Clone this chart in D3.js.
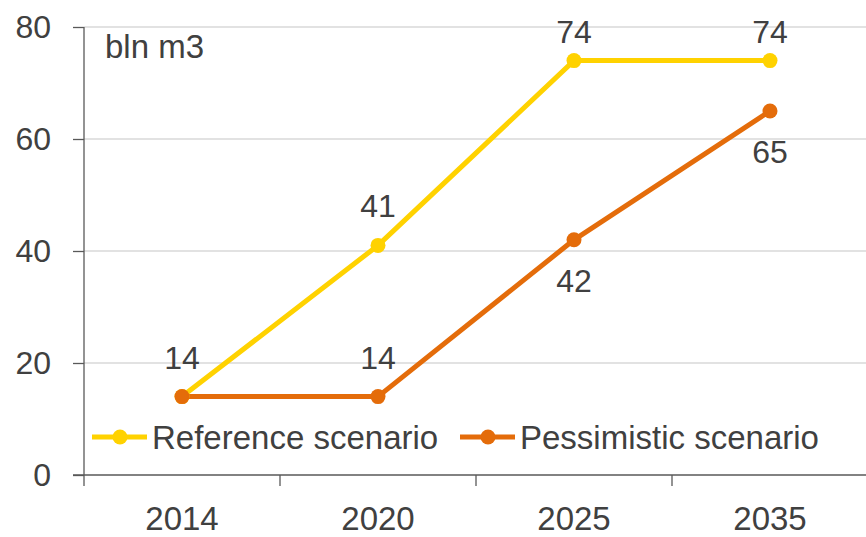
<!DOCTYPE html>
<html>
<head>
<meta charset="utf-8">
<script src="https://cdn.jsdelivr.net/npm/d3@7"></script>
<style>
  body { margin: 0; background: #fff; }
  text { font-family: "Liberation Sans", Arial, sans-serif; fill: #404040; }
</style>
</head>
<body>
<div id="chart"></div>
<script>
const years = ["2014", "2020", "2025", "2035"];
const referenceValues = [14, 41, 74, 74];
const pessimisticValues = [14, 14, 42, 65];
const yTicks = [0, 20, 40, 60, 80];
const seriesNames = ["Reference scenario", "Pessimistic scenario"];
// where each series puts its value labels
const referenceLabelPos = ["above", "above", "above", "above"];
const pessimisticLabelPos = ["none", "above", "below", "below"];

const svgWidth = 866;
const svgHeight = 537;
const margin = { top: 27, right: 0, bottom: 62, left: 84 };
const width = svgWidth - margin.left - margin.right;
const height = svgHeight - margin.top - margin.bottom;

const svg = d3.select("#chart")
  .append("svg")
  .attr("width", svgWidth)
  .attr("height", svgHeight);

const chartGroup = svg.append("g")
  .attr("transform", `translate(${margin.left}, ${margin.top})`);

const xScale = d3.scaleBand()
  .domain(years)
  .range([0, 196 * 4])
  .padding(0);

const yScale = d3.scaleLinear()
  .domain([0, 80])
  .range([height, 0]);

// gridlines
chartGroup.append("g")
  .selectAll("line")
  .data(yTicks.filter(d => d > 0))
  .enter()
  .append("line")
  .attr("x1", 0)
  .attr("x2", width)
  .attr("y1", d => yScale(d))
  .attr("y2", d => yScale(d))
  .attr("stroke", "#d9d9d9")
  .attr("stroke-width", 1.5);

// y axis
const leftAxis = d3.axisLeft(yScale).tickValues(yTicks).tickSize(11).tickPadding(22);
const yAxis = chartGroup.append("g").call(leftAxis);
yAxis.select(".domain").remove();
yAxis.append("line")
  .attr("x1", 0).attr("x2", 0)
  .attr("y1", 0).attr("y2", height + 11)
  .attr("stroke", "#595959").attr("stroke-width", 1.3);
yAxis.selectAll(".tick line").attr("stroke", "#595959").attr("stroke-width", 1.3);
yAxis.selectAll(".tick text")
  .style("font-size", "32px")
  .attr("fill", "#404040");

// x axis
const xAxis = chartGroup.append("g").attr("transform", `translate(0, ${height})`);
xAxis.append("line")
  .attr("x1", -11).attr("x2", width)
  .attr("y1", 0).attr("y2", 0)
  .attr("stroke", "#595959").attr("stroke-width", 1.3);
xAxis.selectAll(".xtick")
  .data(years.slice(1))
  .enter()
  .append("line")
  .attr("x1", d => xScale(d)).attr("x2", d => xScale(d))
  .attr("y1", 0).attr("y2", 11)
  .attr("stroke", "#595959").attr("stroke-width", 1.3);
xAxis.selectAll(".xlabel")
  .data(years)
  .enter()
  .append("text")
  .attr("x", d => xScale(d) + xScale.bandwidth() / 2)
  .attr("y", 55)
  .attr("text-anchor", "middle")
  .style("font-size", "33px")
  .text(d => d);

// unit label
chartGroup.append("text")
  .attr("x", 21)
  .attr("y", 31)
  .style("font-size", "33px")
  .text("bln m3");

const series = [
  { name: seriesNames[0], values: referenceValues, pos: referenceLabelPos, color: "#ffd200" },
  { name: seriesNames[1], values: pessimisticValues, pos: pessimisticLabelPos, color: "#e46c0a" }
];

const line = d3.line()
  .x((d, i) => xScale(years[i]) + xScale.bandwidth() / 2)
  .y(d => yScale(d));

series.forEach(s => {
  chartGroup.append("path")
    .datum(s.values)
    .attr("d", line)
    .attr("fill", "none")
    .attr("stroke", s.color)
    .attr("stroke-width", 5)
    .attr("stroke-linejoin", "round");
});

series.forEach(s => {
  chartGroup.append("g")
    .selectAll("circle")
    .data(s.values)
    .enter()
    .append("circle")
    .attr("cx", (d, i) => xScale(years[i]) + xScale.bandwidth() / 2)
    .attr("cy", d => yScale(d))
    .attr("r", 7.5)
    .attr("fill", s.color);
});

// value labels
series.forEach(s => {
  chartGroup.append("g")
    .selectAll("text")
    .data(s.values.map((v, i) => ({ v: v, i: i, pos: s.pos[i] })).filter(d => d.pos !== "none"))
    .enter()
    .append("text")
    .attr("x", d => xScale(years[d.i]) + xScale.bandwidth() / 2)
    .attr("y", d => d.pos === "above" ? Math.max(yScale(d.v) - 28, 16) : yScale(d.v) + 52)
    .attr("text-anchor", "middle")
    .style("font-size", "32px")
    .text(d => d.v);
});

// legend
const legend = svg.append("g").attr("transform", "translate(92, 437)");
const legendX = [0, 368];
series.forEach((s, k) => {
  const g = legend.append("g").attr("transform", `translate(${legendX[k]}, 0)`);
  g.append("line")
    .attr("x1", 0).attr("x2", 55)
    .attr("y1", 0).attr("y2", 0)
    .attr("stroke", s.color).attr("stroke-width", 5);
  g.append("circle")
    .attr("cx", 28).attr("cy", 0).attr("r", 7.5)
    .attr("fill", s.color);
  g.append("text")
    .attr("x", 60).attr("y", 12)
    .style("font-size", "33px")
    .text(s.name);
});
</script>
</body>
</html>
